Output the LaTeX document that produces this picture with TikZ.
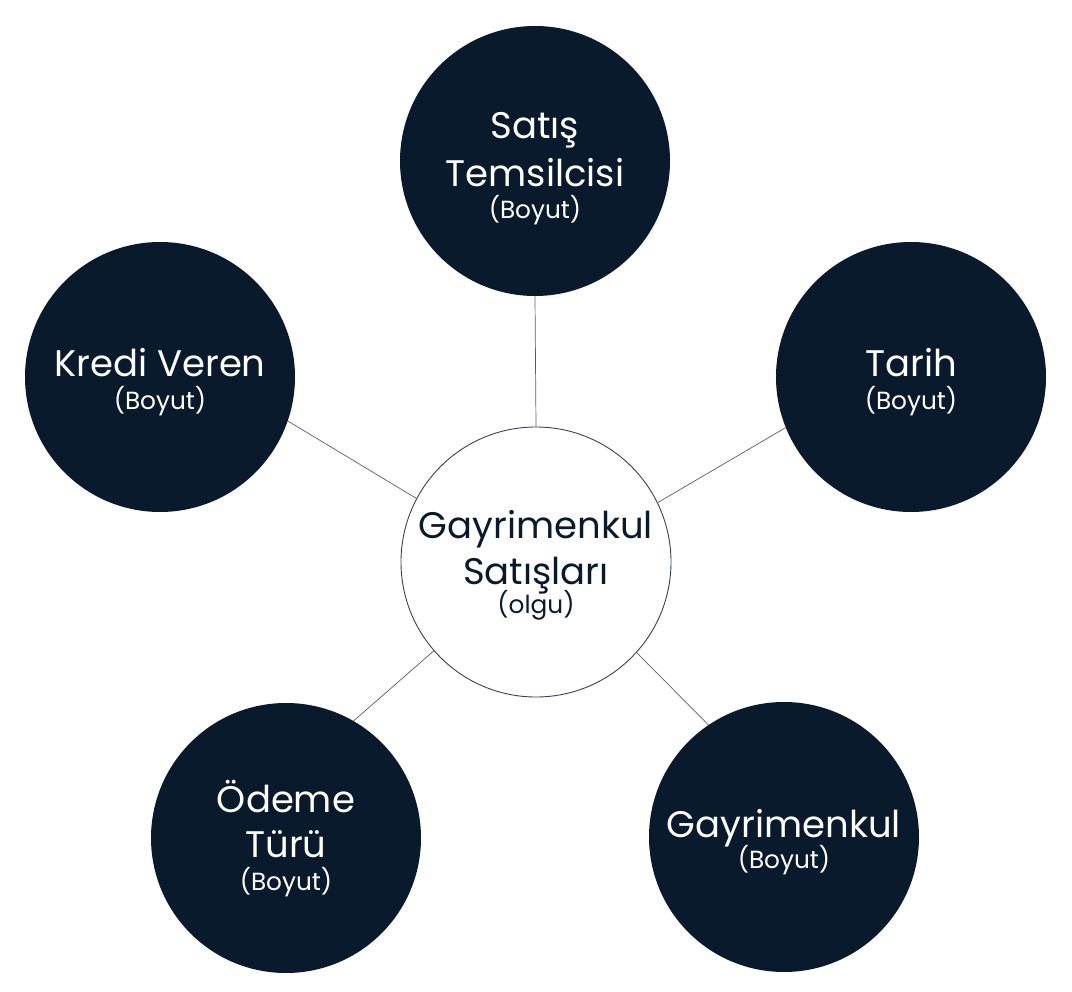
\documentclass[tikz,border=0pt]{standalone}
\usepackage{fontspec}
\setmainfont{Poppins}
\definecolor{navy}{HTML}{0A1A2D}
\definecolor{rim}{HTML}{3A4250}
\definecolor{wire}{HTML}{5A5F66}
\tikzset{
  dim/.style={circle, fill=navy, draw=none, minimum size=270pt, inner sep=0pt},
  fact/.style={circle, fill=white, draw=rim, line width=0.9pt, minimum size=270pt, inner sep=0pt},
  maintxt/.style={anchor=base, inner sep=0pt, text=white, font=\fontsize{37}{44}\selectfont},
  subtxt/.style={anchor=base, inner sep=0pt, text=white, font=\fontsize{24.8}{29}\selectfont},
  wirestyle/.style={draw=wire, line width=0.7pt}
}
\begin{document}
\begin{tikzpicture}[x=1pt,y=1pt]
\useasboundingbox (0,0) rectangle (1072,-992);
\fill[white] (0,0) rectangle (1072,-992);
% circles
\node[dim]  (top)   at (535,-161) {};
\node[dim]  (kredi) at (160,-377) {};
\node[dim]  (tarih) at (911,-377) {};
\node[fact] (fakt)  at (536,-562) {};
\node[dim]  (odeme) at (286,-838) {};
\node[dim]  (gayr)  at (784,-837) {};
% connectors
\draw[wirestyle] (top.-90) -- (fakt.90);
\draw[wirestyle] (kredi.-19) -- (fakt.152);
\draw[wirestyle] (tarih.202) -- (fakt.26);
\draw[wirestyle] (odeme.60) -- (fakt.221);
\draw[wirestyle] (gayr.124) -- (fakt.-42);
% texts
\node[maintxt] (t1) at ([yshift=22pt]top.center) {Satış};
\node[maintxt] (t2) at ([yshift=-26pt]top.center) {Temsilcisi};
\node[subtxt]  (t3) at ([yshift=-58pt]top.center) {(Boyut)};
\node[maintxt] (k1) at (kredi.center) {Kredi Veren};
\node[subtxt]  (k2) at ([yshift=-33pt]kredi.center) {(Boyut)};
\node[maintxt] (r1) at (tarih.center) {Tarih};
\node[subtxt]  (r2) at ([yshift=-33pt]tarih.center) {(Boyut)};
\node[maintxt, text=navy] (f1) at ([yshift=24pt]fakt.center) {Gayrimenkul};
\node[maintxt, text=navy] (f2) at ([yshift=-22pt]fakt.center) {Satışları};
\node[subtxt, text=navy]  (f3) at ([yshift=-51pt]fakt.center) {(olgu)};
\node[maintxt] (o1) at ([yshift=26pt]odeme.center) {Ödeme};
\node[maintxt] (o2) at ([yshift=-19pt]odeme.center) {Türü};
\node[subtxt]  (o3) at ([yshift=-52pt]odeme.center) {(Boyut)};
\node[maintxt] (g1) at (gayr.center) {Gayrimenkul};
\node[subtxt]  (g2) at ([yshift=-31pt]gayr.center) {(Boyut)};
\end{tikzpicture}
\end{document}
